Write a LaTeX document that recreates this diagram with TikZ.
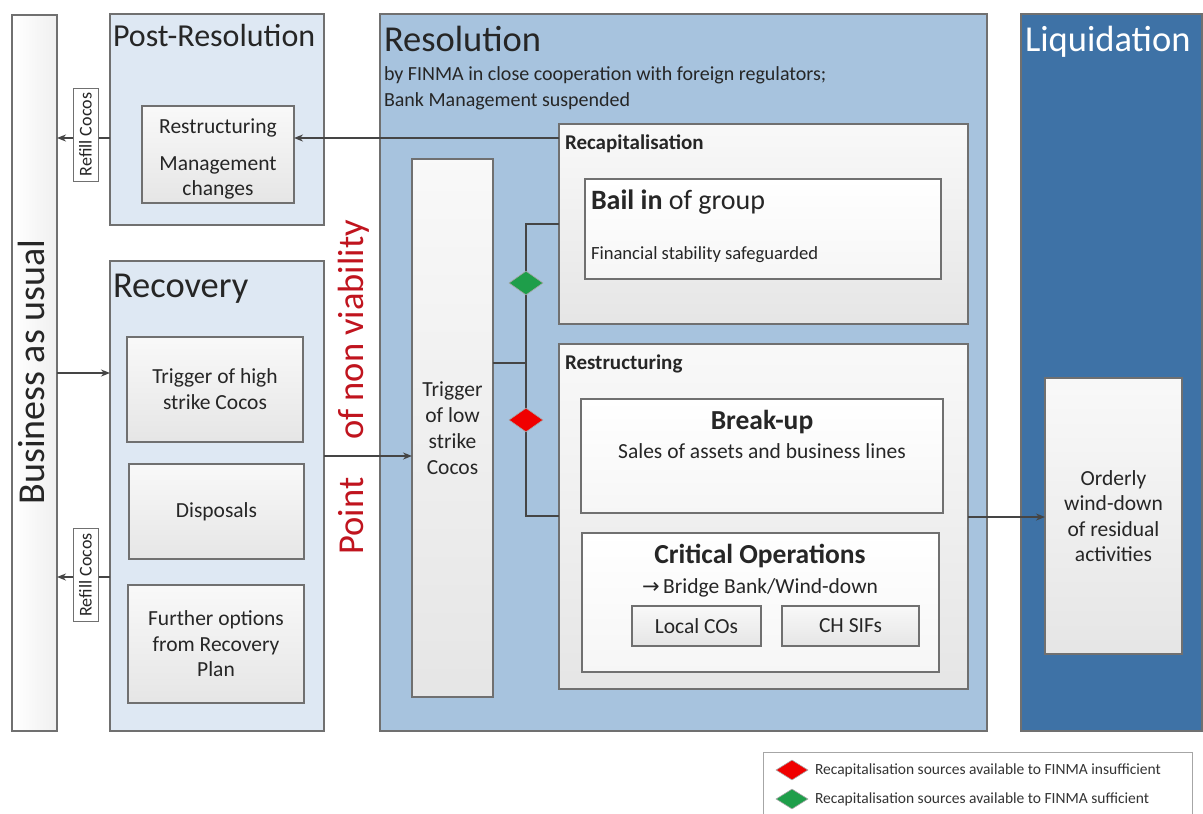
\documentclass[tikz,border=0pt]{standalone}
\usepackage{fontspec}
\setmainfont{Carlito}
\newfontfamily\symfont{DejaVu Sans}
\usetikzlibrary{arrows.meta,shapes.geometric}
\definecolor{lb}{HTML}{DEE8F3}
\definecolor{mb}{HTML}{A7C3DE}
\definecolor{db}{HTML}{3E72A6}
\definecolor{bd}{HTML}{707070}
\definecolor{ln}{HTML}{454545}
\definecolor{txt}{HTML}{262626}
\definecolor{pnv}{HTML}{C0141E}
\definecolor{gd}{HTML}{1E9E4A}
\definecolor{rd}{HTML}{F00000}
\newcommand\fs[2]{\fontsize{#1}{#2}\selectfont}
\begin{document}
\begin{tikzpicture}[x=1pt,y=-1pt,
  base/.style={anchor=north west, inner sep=0pt, outer sep=0pt, line width=1.2pt, draw=bd},
  stage/.style={base},
  gbox/.style={base, top color=gray!5, bottom color=gray!20, align=center, text=txt},
  wbox/.style={base, top color=white, bottom color=gray!7},
  conn/.style={draw=ln, line width=1.5pt},
  arr/.style={conn, -{Stealth[length=9pt,width=7pt]}},
  lbl/.style={inner sep=0pt, outer sep=0pt, text=txt},
  refill/.style={draw=bd, line width=1pt, fill=white, rotate=90, inner sep=0pt, minimum width=93pt, minimum height=25pt, text=txt, font=\fs{18}{20}},
  dia/.style={diamond, draw=gray!70, line width=0.6pt, inner sep=0pt, minimum width=34pt, minimum height=24pt}
]
\useasboundingbox (0,0) rectangle (1203,814);
\fill[white] (0,0) rectangle (1203,814);

% stages
\node[stage, left color=white, right color=gray!12, minimum width=45pt, minimum height=716pt] (bau) at (12,15) {};
\node[stage, fill=lb, minimum width=214pt, minimum height=211pt] (post) at (110,14) {};
\node[stage, fill=lb, minimum width=214pt, minimum height=470pt] (rec) at (110,261) {};
\node[stage, fill=mb, minimum width=607pt, minimum height=717pt] (res) at (380,14) {};
\node[stage, fill=db, minimum width=181pt, minimum height=717pt] (liq) at (1021,14) {};

% titles
\node[lbl, rotate=90, anchor=base, font=\fs{38}{44}] (baut) at (45,372) {Business as usual};
\node[lbl, anchor=base west, font=\fs{32}{36}] (postt) at (113,46) {Post-Resolution};
\node[lbl, anchor=base west, font=\fs{36.5}{42}] (rect) at (113,297) {Recovery};
\node[lbl, anchor=base west, font=\fs{36.5}{42}] (rest) at (384,51) {Resolution};
\node[lbl, anchor=base west, font=\fs{20}{26}] (ressub1) at (384,80) {by FINMA in close cooperation with foreign regulators;};
\node[lbl, anchor=base west, font=\fs{20}{26}] (ressub2) at (384,106) {Bank Management suspended};
\node[lbl, anchor=base west, text=white, font=\fs{36.5}{42}] (liqt) at (1025,51) {Liquidation};
\node[lbl, rotate=90, anchor=base, text=pnv, font=\fs{36.5}{42}] (pnv1) at (363,330) {of non viability};
\node[lbl, rotate=90, anchor=base, text=pnv, font=\fs{36.5}{42}] (pnv2) at (363,516) {Point};

% coordinates for connector heights
\coordinate (y138) at (0,138);
\coordinate (y373) at (0,373);
\coordinate (y577) at (0,577);
\coordinate (y456) at (0,456);
\coordinate (y517) at (0,517);
\coordinate (jn) at (526,363);
\coordinate (jt) at (526,224);
\coordinate (jb) at (526,516);

% post-resolution content
\node[gbox, minimum width=152pt, minimum height=97pt] (rm) at (142,106) {};
\node[lbl, anchor=base, font=\fs{21.5}{26}] (rm1) at (218,133) {Restructuring};
\node[lbl, anchor=base, font=\fs{21.5}{26}] (rm2) at (218,170) {Management};
\node[lbl, anchor=base, font=\fs{21.5}{26}] (rm3) at (218,195) {changes};

% recovery content
\node[gbox, minimum width=176pt, minimum height=105pt, font=\fs{21.5}{26}] (th) at (127,337) {Trigger of high\\strike Cocos};
\node[gbox, minimum width=175pt, minimum height=95pt, font=\fs{21.5}{26}] (disp) at (129,464) {Disposals};
\node[gbox, minimum width=176pt, minimum height=118pt, font=\fs{21.5}{25.5}] (fo) at (128,585) {Further options\\from Recovery\\Plan};

% resolution content
\node[gbox, minimum width=409pt, minimum height=200pt] (recap) at (559,124) {};
\node[gbox, minimum width=409pt, minimum height=345pt] (restr) at (559,344) {};
\node[gbox, minimum width=81pt, minimum height=538pt, font=\fs{21.5}{26}] (tl) at (412,159) {Trigger\\of low\\strike\\Cocos};
\node[lbl, anchor=base west, font=\bfseries\fs{21}{24}] (recapt) at (565,149) {Recapitalisation};
\node[lbl, anchor=base west, font=\bfseries\fs{21}{24}] (restrt) at (565,369) {Restructuring};
\node[wbox, minimum width=356pt, minimum height=100pt] (bail) at (585,179) {};
\node[lbl, anchor=base west, font=\fs{28}{32}] (bailt) at (591,209) {\textbf{Bail in} of group};
\node[lbl, anchor=base west, font=\fs{18.6}{22}] (bails) at (591,259) {Financial stability safeguarded};
\node[wbox, minimum width=362pt, minimum height=114pt] (brk) at (581,399) {};
\node[lbl, anchor=base, font=\bfseries\fs{27.5}{32}] (brkt) at (762,429) {Break-up};
\node[lbl, anchor=base, font=\fs{21.5}{26}] (brks) at (762,458) {Sales of assets and business lines};
\node[wbox, minimum width=357pt, minimum height=139pt] (co) at (582,533) {};
\node[lbl, anchor=base, font=\bfseries\fs{27.5}{32}] (cot) at (760,563) {Critical Operations};
\node[lbl, anchor=base, font=\fs{21.5}{26}] (cos) at (760,593) {{\symfont\fs{21}{26}→}\,Bridge Bank/Wind-down};
\node[gbox, minimum width=129pt, minimum height=40pt, font=\fs{21.5}{26}] (lco) at (632,606) {Local COs};
\node[gbox, minimum width=137pt, minimum height=40pt, font=\fs{21.5}{26}] (chs) at (782,606) {CH SIFs};

% liquidation content
\node[gbox, minimum width=137pt, minimum height=276pt, font=\fs{21.5}{25.5}] (ord) at (1045,378) {Orderly\\wind-down\\of residual\\activities};

% connectors
\draw[arr] (post.west |- y138) -- (bau.east |- y138);
\draw[arr] (rec.west |- y577) -- (bau.east |- y577);
\draw[arr] (bau.east |- y373) -- (rec.west |- y373);
\draw[arr] (rec.east |- y456) -- (tl.west |- y456);
\draw[arr] (recap.west |- y138) -- (rm.east |- y138);
\draw[conn] (tl.east |- jn) -- (jn);
\draw[conn] (recap.west |- jt) -- (jt) -- (jb) -- (restr.west |- jb);
\draw[arr] (restr.east |- y517) -- (ord.west |- y517);

\node[refill] (rf1) at (85.5,134.5) {Refill Cocos};
\node[refill] (rf2) at (85.5,575) {Refill Cocos};

\node[dia, fill=gd] (dg) at (526,283) {};
\node[dia, fill=rd] (dr) at (526,420) {};

% legend
\draw[draw=gray!70, line width=1pt] (763,815) -- (763,752) -- (1192,752) -- (1192,815);
\node[dia, fill=rd, minimum width=32pt, minimum height=20pt] (lr) at (792,770) {};
\node[dia, fill=gd, minimum width=32pt, minimum height=20pt] (lg) at (792,799) {};
\node[lbl, anchor=west, text=gray!40!black, font=\fs{15.5}{18}] (lrt) at (815,770) {Recapitalisation sources available to FINMA insufficient};
\node[lbl, anchor=west, text=gray!40!black, font=\fs{15.5}{18}] (lgt) at (815,799) {Recapitalisation sources available to FINMA sufficient};
\end{tikzpicture}
\end{document}
